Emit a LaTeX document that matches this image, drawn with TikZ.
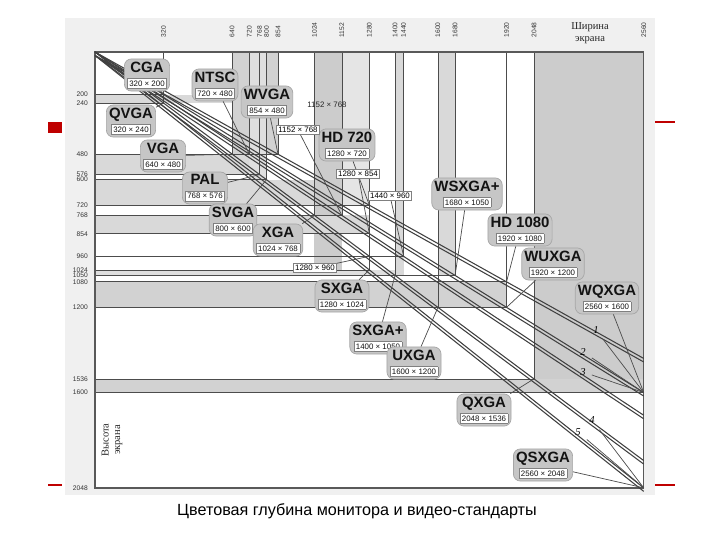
\documentclass[tikz,border=0pt]{standalone}
\usepackage{fontspec}
\setmainfont{Liberation Sans}
\newfontfamily\serifru{Liberation Serif}
\begin{document}
\begin{tikzpicture}[x=0.02cm,y=-0.02cm,
  lbl/.style={draw=gray!70,fill=gray!45,rounded corners=4pt,inner sep=1.5pt,align=center,font=\fontsize{8.5}{9}\selectfont\bfseries,text=gray!15!black},
  res/.style={fill=white,draw=gray,inner sep=1pt,font=\normalfont\fontsize{4.5}{5}\selectfont},
  lead/.style={draw=gray!60!black,line width=0.4pt},
  tick/.style={font=\fontsize{3.8}{4}\selectfont,text=gray!40!black},
  diag/.style={draw=gray!50!black,line width=0.6pt}]
\useasboundingbox (0,0) rectangle (720,540);
% scan frame
\fill[gray!12] (65,18) rectangle (655,495);
\fill[red!75!black] (48,122) rectangle (62,133);
\draw[red!75!black,line width=0.6pt] (655,122) -- (675,122) (48,485) -- (62,485) (655,485) -- (675,485);
\begin{scope}[shift={(95,52)},x=0.0042812cm,y=-0.0042578cm]
 \fill[white] (0,0) rectangle (2560,2048);
 % gray bands
 \fill[gray!35] (640,0) rectangle (854,480);
 \fill[gray!25] (720,0) rectangle (800,600);
 \fill[gray!40] (1024,0) rectangle (1152,1024);
 \fill[gray!20] (1152,0) rectangle (1280,720);
 \fill[gray!30] (1400,0) rectangle (1440,1050);
 \fill[gray!30] (1600,0) rectangle (1680,1050);
 \fill[gray!40] (2048,0) rectangle (2560,1600);
 \fill[gray!30] (0,200) rectangle (640,240);
 \fill[gray!30] (0,480) rectangle (720,576);
 \fill[gray!30] (0,600) rectangle (1024,720);
 \fill[gray!30] (0,768) rectangle (1280,854);
 \fill[gray!25] (0,1024) rectangle (1400,1050);
 \fill[gray!35] (0,1080) rectangle (1920,1200);
 \fill[gray!35] (0,1536) rectangle (2560,1600);
 % resolution rectangles
 \foreach \w/\h in {320/200,320/240,640/480,720/480,854/480,768/576,800/600,1024/768,1152/768,1280/720,1280/854,1440/960,1280/960,1280/1024,1400/1050,1680/1050,1600/1200,1920/1080,1920/1200,2048/1536,2560/1600,2560/2048}
   {\draw[gray!60!black,line width=0.4pt] (0,0) rectangle (\w,\h); \coordinate (r\w x\h) at (\w,\h);}
 \draw[gray!70!black,line width=0.8pt] (0,0) rectangle (2560,2048);
 % diagonals
 \coordinate (o) at (0,0);
 \foreach \w/\h/\n in {2560/1440/d1,2560/1600/d2,2560/1707/d3,2560/1920/d4,2560/2048/d5}
   {\coordinate (\n) at (\w,\h); \draw[diag] (o) -- (\n); \draw[diag] ([yshift=-2pt]o) -- ([yshift=-2pt]\n);}
 % ticks
 \foreach \w in {320,640,720,768,800,854,1024,1152,1280,1400,1440,1600,1680,1920,2048,2560}
   \node[tick,rotate=90,anchor=west] (tx\w) at (\w,-40) {\w};
 \foreach \h in {200,240,480,576,600,720,768,854,960,1024,1050,1080,1200,1536,1600,2048}
   \node[tick,anchor=east] (ty\h) at (-5,\h) {\h};
\end{scope}
\node[font=\serifru\fontsize{6}{6.5}\selectfont,align=center,text=gray!30!black] (wt) at (590,33) {Ширина\\экрана};
\node[font=\serifru\fontsize{6}{6.5}\selectfont,align=center,rotate=90,text=gray!30!black] (ht) at (112,440) {Высота\\экрана};
% labels
\setlength{\fboxsep}{1pt}\setlength{\fboxrule}{0.3pt}
\newcommand\lab[5]{\node[lbl] (#1) at (#2) {#3\\[-1pt]\fcolorbox{gray}{white}{\normalfont\fontsize{4.5}{5}\selectfont #4}}; \draw[lead] (#1) -- (#5);}
\lab{cga}{147,75}{CGA}{320 × 200}{r320x200}
\lab{ntsc}{215,85}{NTSC}{720 × 480}{r720x480}
\lab{wvga}{267,102}{WVGA}{854 × 480}{r854x480}
\lab{qvga}{131,121}{QVGA}{320 × 240}{r320x240}
\lab{vga}{163,156}{VGA}{640 × 480}{r640x480}
\lab{hd}{347,145}{HD 720}{1280 × 720}{r1280x720}
\lab{pal}{205,188}{PAL}{768 × 576}{r768x576}
\lab{wsx}{467,194}{WSXGA+}{1680 × 1050}{r1680x1050}
\lab{svga}{233,220}{SVGA}{800 × 600}{r800x600}
\lab{hdt}{520,230}{HD 1080}{1920 × 1080}{r1920x1080}
\lab{xga}{278,240}{XGA}{1024 × 768}{r1024x768}
\lab{wux}{553,264}{WUXGA}{1920 × 1200}{r1920x1200}
\lab{wqx}{607,298}{WQXGA}{2560 × 1600}{r2560x1600}
\lab{sxga}{342,296}{SXGA}{1280 × 1024}{r1280x1024}
\lab{sxp}{378,338}{SXGA+}{1400 × 1050}{r1400x1050}
\lab{uxga}{414,363}{UXGA}{1600 × 1200}{r1600x1200}
\lab{qxga}{484,410}{QXGA}{2048 × 1536}{r2048x1536}
\lab{qsx}{543,465}{QSXGA}{2560 × 2048}{r2560x2048}
\node[font=\fontsize{4.5}{5}\selectfont,text=gray!30!black] (t1152) at (327,105) {1152 × 768};
\node[res] (s1152) at (298,130) {1152 × 768}; \draw[lead] (s1152) -- (r1152x768);
\node[res] (s1280) at (358,174) {1280 × 854}; \draw[lead] (s1280) -- (r1280x854);
\node[res] (s1440) at (390,196) {1440 × 960}; \draw[lead] (s1440) -- (r1440x960);
\node[res] (s960) at (315,268) {1280 × 960}; \draw[lead] (s960) -- (r1280x960);
% ratio numbers
\foreach \n/\p/\d in {1/{596,330}/d2,2/{583,352}/d2,3/{583,372}/d2,4/{592,420}/d5,5/{578,432}/d5}
  {\node[font=\serifru\itshape\fontsize{6}{6}\selectfont] (n\n) at (\p) {\n}; \draw[lead] (n\n) -- (\d);}
\node[font=\fontsize{9.2}{10}\selectfont] (cap) at (357,511) {Цветовая глубина монитора и видео-стандарты};
\end{tikzpicture}
\end{document}
